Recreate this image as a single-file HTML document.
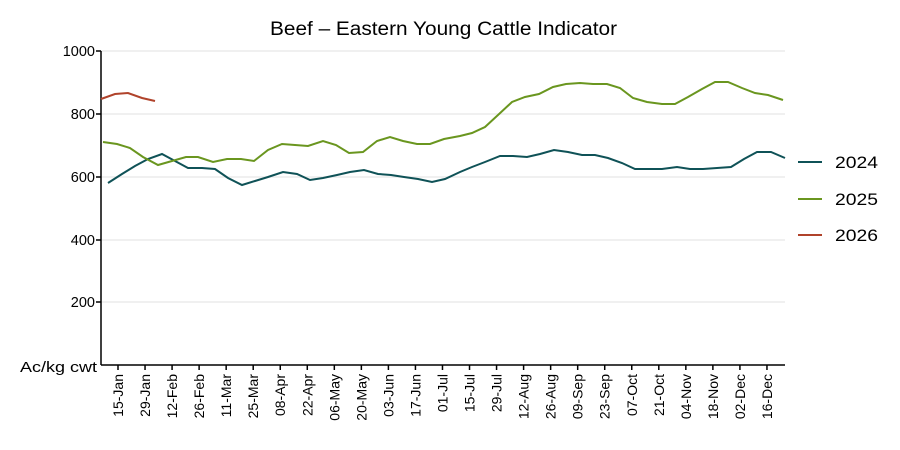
<!DOCTYPE html>
<html><head><meta charset="utf-8"><style>
body{margin:0;background:#fff;}
svg{display:block;font-family:"Liberation Sans",sans-serif;}
</style></head><body>
<svg width="900" height="450" xmlns="http://www.w3.org/2000/svg">
<text x="270" y="35" font-size="19" fill="#000" textLength="347" lengthAdjust="spacingAndGlyphs">Beef – Eastern Young Cattle Indicator</text>
<g stroke="#ebebeb" stroke-width="1.5">
<line x1="101" y1="51" x2="785" y2="51"/><line x1="101" y1="114" x2="785" y2="114"/>
<line x1="101" y1="177" x2="785" y2="177"/><line x1="101" y1="240" x2="785" y2="240"/>
<line x1="101" y1="302" x2="785" y2="302"/>
</g>
<g stroke="#000" stroke-width="1.5">
<line x1="101" y1="51" x2="101" y2="365"/><line x1="101" y1="365" x2="785" y2="365"/>
<line x1="96" y1="51" x2="101" y2="51"/><line x1="96" y1="114" x2="101" y2="114"/>
<line x1="96" y1="177" x2="101" y2="177"/><line x1="96" y1="240" x2="101" y2="240"/>
<line x1="96" y1="302" x2="101" y2="302"/>
</g>
<g font-size="14.5" text-anchor="end" fill="#000">
<text x="95" y="56">1000</text><text x="95" y="119">800</text><text x="95" y="182">600</text>
<text x="95" y="245">400</text><text x="95" y="307">200</text>
</g>
<text x="20" y="372" font-size="14.5" fill="#000" textLength="77" lengthAdjust="spacingAndGlyphs">Ac/kg cwt</text>
<g id="ticks" stroke="#000" stroke-width="1.5"></g>
<g id="xl" font-size="14" fill="#000"></g>
<polyline fill="none" stroke="#0f5257" stroke-width="2" points="108,183 122,174 135,166 148,159 162,154 175,161 188,168 202,168 215,169 228,178 242,185 255,181 268,177 283,172 297,174 310,180 323,178 337,175 350,172 364,170 378,174 391,175 404,177 418,179 432,182 445,179 460,172 472,167 485,162 500,156 513,156 527,157 540,154 554,150 568,152 582,155 595,155 608,158 622,163 635,169 648,169 662,169 677,167 690,169 703,169 717,168 731,167 744,159 757,152 771,152 785,158"/>
<polyline fill="none" stroke="#6a961f" stroke-width="2" points="103,142 117,144 130,148 143,157 158,165 172,161 186,157 198,157 213,162 227,159 241,159 254,161 268,150 282,144 295,145 308,146 323,141 336,145 349,153 363,152 377,141 390,137 403,141 417,144 430,144 444,139 460,136 472,133 485,127 498,115 512,102 525,97 539,94 553,87 566,84 580,83 593,84 607,84 620,88 633,98 647,102 662,104 675,104 688,97 702,89 715,82 728,82 742,88 755,93 768,95 783,100"/>
<polyline fill="none" stroke="#b0432b" stroke-width="2" points="101,99 115,94 128,93 142,98 155,101"/>
<g stroke-width="2">
<line x1="798" y1="162" x2="822" y2="162" stroke="#0f5257"/>
<line x1="798" y1="199" x2="822" y2="199" stroke="#6a961f"/>
<line x1="798" y1="235" x2="822" y2="235" stroke="#b0432b"/>
</g>
<g font-size="17" fill="#000">
<text x="835" y="168" textLength="43" lengthAdjust="spacingAndGlyphs">2024</text><text x="835" y="205" textLength="43" lengthAdjust="spacingAndGlyphs">2025</text><text x="835" y="241" textLength="43" lengthAdjust="spacingAndGlyphs">2026</text>
</g>
<script>
var labs=["15-Jan","29-Jan","12-Feb","26-Feb","11-Mar","25-Mar","08-Apr","22-Apr","06-May","20-May","03-Jun","17-Jun","01-Jul","15-Jul","29-Jul","12-Aug","26-Aug","09-Sep","23-Sep","07-Oct","21-Oct","04-Nov","18-Nov","02-Dec","16-Dec"];
var t=document.getElementById("ticks"),l=document.getElementById("xl"),ns="http://www.w3.org/2000/svg";
labs.forEach(function(s,i){var x=118+i*27.04;
var ln=document.createElementNS(ns,"line");ln.setAttribute("x1",x);ln.setAttribute("x2",x);ln.setAttribute("y1",365);ln.setAttribute("y2",370);t.appendChild(ln);
var tx=document.createElementNS(ns,"text");tx.setAttribute("transform","translate("+(x+5)+",374) rotate(-90)");tx.setAttribute("text-anchor","end");tx.textContent=s;l.appendChild(tx);});
</script>
</svg>
</body></html>
